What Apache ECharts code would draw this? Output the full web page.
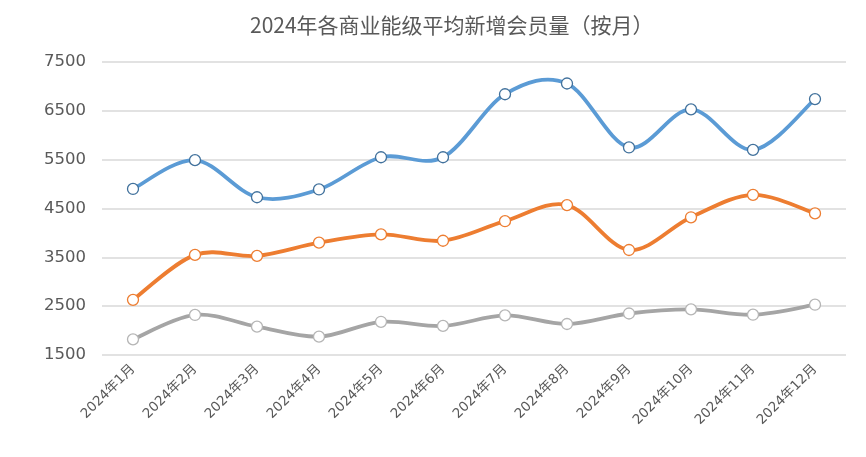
<!DOCTYPE html>
<html><head><meta charset="utf-8">
<script src="https://cdn.jsdelivr.net/npm/echarts@6/dist/echarts.min.js"></script>
<style>html,body{margin:0;padding:0;background:#fff}#c{width:866px;height:457px}</style>
</head><body><div id="c"></div>
<script>
const title = '2024年各商业能级平均新增会员量（按月）';
const categories = ['2024年1月','2024年2月','2024年3月','2024年4月','2024年5月','2024年6月','2024年7月','2024年8月','2024年9月','2024年10月','2024年11月','2024年12月'];
const seriesNames = ['一级商业','二级商业','三级商业'];
const level1 = [4900,5490,4730,4890,5550,5550,6840,7060,5750,6530,5700,6740];
const level2 = [2630,3550,3530,3800,3970,3840,4240,4570,3650,4320,4780,4400];
const level3 = [1820,2320,2080,1875,2180,2095,2310,2135,2350,2435,2325,2530];
const yMin = 1500, yMax = 7500, yStep = 1000;

const chart = echarts.init(document.getElementById('c'));
const font = '"DejaVu Sans","Noto Sans CJK SC",sans-serif';
const colors = ['#5B9BD5','#ED7D31','#A5A5A5'];
const borders = ['#41719C','#ED7D31','#B5B5B5'];
const allData = [level1, level2, level3];

// Smooth curve (Catmull-Rom style, like spreadsheet smoothed lines) through points placed by the axes
function curve(values, color){
  return {
    type:'custom', coordinateSystem:'cartesian2d', silent:true, z:2,
    data: values.map((v,i)=>[i,v]),
    encode:{x:0,y:1},
    renderItem:function(params, api){
      if (params.dataIndex !== 0) return null;
      const p = values.map((v,i)=>api.coord([i,v]));
      const n = p.length;
      let d = 'M' + p[0][0] + ' ' + p[0][1];
      for (let i=0;i<n-1;i++){
        const p0 = p[Math.max(i-1,0)], p1 = p[i], p2 = p[i+1], p3 = p[Math.min(i+2,n-1)];
        const c1x = p1[0] + (p2[0]-p0[0])/6, c1y = p1[1] + (p2[1]-p0[1])/6;
        const c2x = p2[0] - (p3[0]-p1[0])/6, c2y = p2[1] - (p3[1]-p1[1])/6;
        d += ' C' + c1x + ' ' + c1y + ' ' + c2x + ' ' + c2y + ' ' + p2[0] + ' ' + p2[1];
      }
      return {type:'path', shape:{pathData:d}, style:{fill:null, stroke:color, lineWidth:3.8, lineCap:'round', lineJoin:'round'}};
    }
  };
}
const series = [];
allData.forEach((vals, k)=>{
  series.push(curve(vals, colors[k]));
  series.push({name:seriesNames[k], type:'line', data:vals,
    symbol:'circle', symbolSize:11,
    lineStyle:{width:0,color:colors[k]},
    itemStyle:{color:'#fff',borderColor:borders[k],borderWidth:1.3},
    z:3});
});

chart.setOption({
  animation:false,
  color:colors,
  title:{text:title,left:245,top:10,textStyle:{fontSize:21,fontWeight:'normal',color:'#595959',fontFamily:'"Noto Sans CJK SC",sans-serif'}},
  legend:{top:453,left:'center',itemGap:32,itemWidth:25,data:seriesNames,textStyle:{fontSize:12,color:'#595959',fontFamily:'"Noto Sans CJK SC",sans-serif'}},
  grid:{left:102,right:20,top:62,bottom:102,containLabel:false},
  xAxis:{type:'category',data:categories,boundaryGap:true,
    axisLine:{show:false},axisTick:{show:false},
    axisLabel:{rotate:45,margin:12,fontSize:13.5,color:'#595959',fontFamily:font,interval:0}},
  yAxis:{type:'value',min:yMin,max:yMax,interval:yStep,
    axisLine:{show:false},axisTick:{show:false},
    splitLine:{lineStyle:{color:'#D9D9D9',width:1.5}},
    axisLabel:{fontSize:16.5,margin:16,color:'#595959',fontFamily:font,formatter:v=>String(v)}},
  series:series
});
</script></body></html>
